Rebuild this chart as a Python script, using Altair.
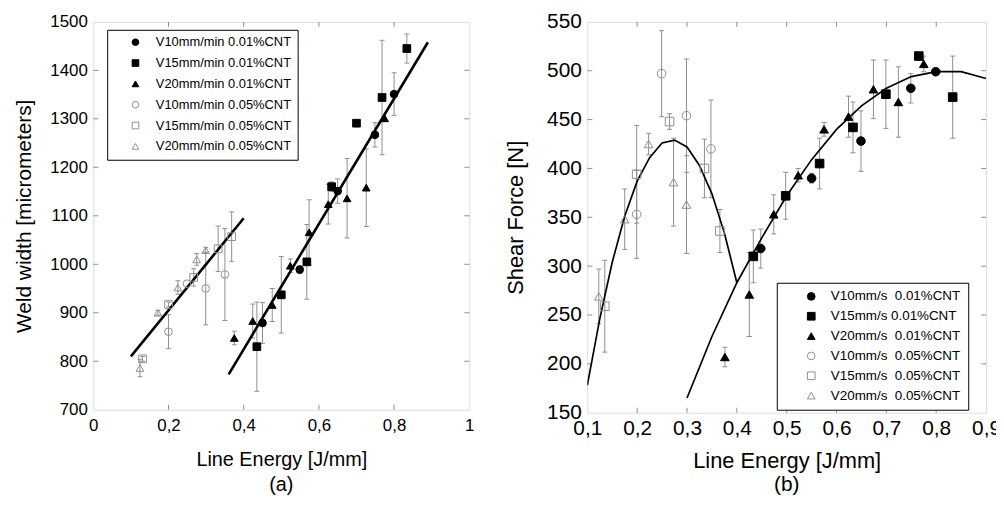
import altair as alt
import pandas as pd

FONT = "Liberation Sans"
GRAY = "#8f8f8f"

# ---------------- Panel (a): weld width ----------------
a_series = ["V10mm/min 0.01%CNT", "V15mm/min 0.01%CNT", "V20mm/min 0.01%CNT",
            "V10mm/min 0.05%CNT", "V15mm/min 0.05%CNT", "V20mm/min 0.05%CNT"]
a_x = [
    [0.45, 0.549, 0.65, 0.749, 0.80],
    [0.435, 0.50, 0.568, 0.634, 0.70, 0.768, 0.834],
    [0.375, 0.424, 0.476, 0.524, 0.574, 0.625, 0.675, 0.726, 0.775],
    [0.20, 0.249, 0.299, 0.35],
    [0.131, 0.20, 0.267, 0.332, 0.368],
    [0.124, 0.172, 0.225, 0.275, 0.299],
]
a_y = [
    [879, 989, 1151, 1267, 1351],
    [830, 937, 1005, 1160, 1291, 1344, 1445],
    [848, 883, 916, 997, 1066, 1124, 1136, 1158, 1301],
    [861, 960, 950, 979],
    [805, 917, 973, 1032, 1057],
    [786, 900, 952, 1010, 1029],
]
a_err = [
    [42, 8, 25, 25, 44],
    [92, 79, 77, 10, 0, 118, 30],
    [14, 35, 34, 14, 67, 41, 82, 80, 0],
    [35, 0, 75, 95],
    [5, 5, 18, 47, 51],
    [18, 5, 14, 12, 6],
]
a_fit_x = [[0.10, 0.40], [0.36, 0.89]]
a_fit_y = [[810, 1095], [773, 1458]]
a_xticks = [0, 0.2, 0.4, 0.6, 0.8, 1]
a_yticks = [700, 800, 900, 1000, 1100, 1200, 1300, 1400, 1500]

# ---------------- Panel (b): shear force ----------------
b_series = ["V10mm/s\u00a0 0.01%CNT", "V15mm/s 0.01%CNT", "V20mm/s\u00a0 0.01%CNT",
            "V10mm/s\u00a0 0.05%CNT", "V15mm/s\u00a0 0.05%CNT", "V20mm/s\u00a0 0.05%CNT"]
b_x = [
    [0.448, 0.55, 0.649, 0.749, 0.799],
    [0.433, 0.498, 0.566, 0.633, 0.699, 0.765, 0.833],
    [0.376, 0.425, 0.474, 0.523, 0.575, 0.624, 0.674, 0.724, 0.775],
    [0.199, 0.249, 0.299, 0.348],
    [0.135, 0.199, 0.265, 0.335, 0.366],
    [0.123, 0.175, 0.223, 0.273, 0.299],
]
b_y = [
    [318, 390, 428, 482, 499],
    [310, 372, 405, 442, 476, 515, 473],
    [207, 271, 353, 393, 440, 453, 481, 468, 507],
    [353, 497, 454, 420],
    [259, 394, 448, 400, 336],
    [269, 348, 425, 386, 363],
]
b_err = [
    [20, 5, 31, 15, 0],
    [27, 24, 26, 26, 35, 0, 42],
    [10, 43, 20, 7, 7, 21, 30, 36, 8],
    [45, 44, 58, 50],
    [47, 50, 8, 30, 22],
    [28, 31, 11, 45, 50],
]
b_fit_x = [
    [0.10, 0.125, 0.15, 0.175, 0.20, 0.225, 0.25, 0.275, 0.30, 0.325, 0.35, 0.375, 0.40],
    [0.30, 0.35, 0.40, 0.45, 0.50, 0.55, 0.60, 0.65, 0.70, 0.75, 0.80, 0.85, 0.90],
]
b_fit_y = [
    [178, 246, 304, 351, 387, 411, 426, 429, 422, 403, 374, 334, 283],
    [165, 228, 283, 329, 372, 409, 440, 464, 482, 494, 499, 499, 492],
]
b_xticks = [0.1, 0.2, 0.3, 0.4, 0.5, 0.6, 0.7, 0.8, 0.9]
b_yticks = [150, 200, 250, 300, 350, 400, 450, 500, 550]

SHAPES = ["circle", "square", "triangle-up", "circle", "square", "triangle-up"]
FILLS = ["black", "black", "black", "transparent", "transparent", "transparent"]
STROKES = ["black", "black", "black", GRAY, GRAY, GRAY]


def points_frame(series, xs, ys, es):
    rows = []
    for name, xl, yl, el in zip(series, xs, ys, es):
        for x, y, e in zip(xl, yl, el):
            rows.append({"s": name, "x": x, "y": y, "lo": y - e, "hi": y + e, "e": e})
    return pd.DataFrame(rows)


def fits_frame(fx, fy):
    rows = []
    for i, (xl, yl) in enumerate(zip(fx, fy)):
        for x, y in zip(xl, yl):
            rows.append({"g": i, "x": x, "y": y})
    return pd.DataFrame(rows)


def panel(series, xs, ys, es, fx, fy, xticks, yticks, xdom, ydom, W, H,
          xtitle, ytitle, letter, st, legend_xy, legend_style, pt_size, line_w):
    pts = points_frame(series, xs, ys, es)
    errs = pts[pts["e"] > 0]
    fits = fits_frame(fx, fy)

    xaxis = alt.Axis(values=xticks, format="~g", labelExpr="replace(datum.label, '.', ',')",
                     ticks=False, domain=False, grid=False, labelFlush=False,
                     labelFont=FONT, labelFontSize=st["xl"], labelColor="black",
                     labelPadding=st["xlp"], title=xtitle, titleFont=FONT,
                     titleFontSize=st["xt"], titleFontWeight="normal", titleColor="black",
                     titlePadding=st["xtp"])
    yaxis = alt.Axis(values=yticks, format="d", ticks=False, domain=False, grid=False,
                     labelFlush=False, labelOverlap=False,
                     labelFont=FONT, labelFontSize=st["yl"], labelColor="black",
                     labelPadding=st["ylp"], minExtent=st["ye"], maxExtent=st["ye"],
                     title=ytitle, titleFont=FONT, titleFontSize=st["yt"],
                     titleFontWeight="normal", titleColor="black", titlePadding=st["ytp"])
    xs_ = alt.Scale(domain=xdom, nice=False, zero=False)
    ys_ = alt.Scale(domain=ydom, nice=False, zero=False)

    def X(f):
        return alt.X(f, scale=xs_, axis=xaxis)

    def Y(f):
        return alt.Y(f, scale=ys_, axis=yaxis)

    xt = pd.DataFrame({"x": xticks[1:-1]})
    yt = pd.DataFrame({"y": yticks[1:-1]})
    tick_b = alt.Chart(xt).mark_rule(color=GRAY).encode(x=X("x:Q"), y=alt.value(H - 5), y2=alt.value(H))
    tick_t = alt.Chart(xt).mark_rule(color=GRAY).encode(x=X("x:Q"), y=alt.value(0), y2=alt.value(5))
    tick_l = alt.Chart(yt).mark_rule(color=GRAY).encode(y=Y("y:Q"), x=alt.value(0), x2=alt.value(5))
    tick_r = alt.Chart(yt).mark_rule(color=GRAY).encode(y=Y("y:Q"), x=alt.value(W - 5), x2=alt.value(W))

    bars = alt.Chart(errs).mark_rule(color=GRAY, strokeWidth=1).encode(
        x=X("x:Q"), y=Y("lo:Q"), y2="hi:Q")
    cap_lo = alt.Chart(errs).mark_tick(color=GRAY, orient="horizontal", size=5,
                                       thickness=1, opacity=1).encode(x=X("x:Q"), y=Y("lo:Q"))
    cap_hi = alt.Chart(errs).mark_tick(color=GRAY, orient="horizontal", size=5,
                                       thickness=1, opacity=1).encode(x=X("x:Q"), y=Y("hi:Q"))
    lines = alt.Chart(fits).mark_line(color="black", strokeWidth=line_w, clip=True).encode(
        x=X("x:Q"), y=Y("y:Q"), detail="g:N")

    leg = alt.Legend(title=None, orient="none", legendX=legend_xy[0], legendY=legend_xy[1],
                     direction="vertical", strokeColor="black", fillColor="white",
                     labelFont=FONT, labelColor="black", **legend_style)
    pts_layer = alt.Chart(pts).mark_point(size=pt_size, strokeWidth=1, opacity=1).encode(
        x=X("x:Q"), y=Y("y:Q"),
        shape=alt.Shape("s:N", scale=alt.Scale(domain=series, range=SHAPES), legend=leg),
        fill=alt.Fill("s:N", scale=alt.Scale(domain=series, range=FILLS), legend=leg),
        stroke=alt.Stroke("s:N", scale=alt.Scale(domain=series, range=STROKES), legend=leg),
    )
    return alt.layer(tick_b, tick_t, tick_l, tick_r, bars, cap_lo, cap_hi, lines, pts_layer).properties(
        width=W, height=H,
        title=alt.TitleParams(letter, orient="bottom", anchor="middle", frame="group",
                              font=FONT, fontSize=st["let"], fontWeight="normal",
                              color="black", offset=st["leto"]))


left = panel(a_series, a_x, a_y, a_err, a_fit_x, a_fit_y, a_xticks, a_yticks, [0, 1], [700, 1500],
             379, 391, "Line Energy [J/mm]", "Weld width [micrometers]", "(a)",
             dict(xl=17, xlp=8, xt=20, xtp=16, yl=17, ylp=6, ye=48, yt=21, ytp=11, let=20, leto=6),
             (14, 8),
             dict(padding=6, labelFontSize=13, symbolSize=45, symbolOffset=16, labelOffset=14,
                  rowPadding=7, symbolStrokeWidth=1),
             60, 2.6)

right = panel(b_series, b_x, b_y, b_err, b_fit_x, b_fit_y, b_xticks, b_yticks, [0.1, 0.9], [150, 550],
              402, 394, "Line Energy [J/mm]", "Shear Force [N]", "(b)",
              dict(xl=21, xlp=5, xt=22, xtp=12, yl=21, ylp=6, ye=44, yt=22, ytp=16, let=21, leto=3),
              (191, 263),
              dict(padding=7, labelFontSize=13.5, symbolSize=60, symbolOffset=21, labelOffset=13,
                   rowPadding=5, symbolStrokeWidth=1),
              75, 1.7)

chart = alt.hconcat(left, right, spacing=29).resolve_scale(
    x="independent", y="independent", shape="independent", fill="independent", stroke="independent"
).resolve_legend(shape="independent", fill="independent", stroke="independent").properties(
    padding={"left": 5, "top": 0, "right": -6, "bottom": 0}
).configure_view(
    stroke=GRAY, strokeWidth=1
).configure(font=FONT, background="white")

chart.save("out.html", embed_options={"renderer": "svg", "actions": False})
